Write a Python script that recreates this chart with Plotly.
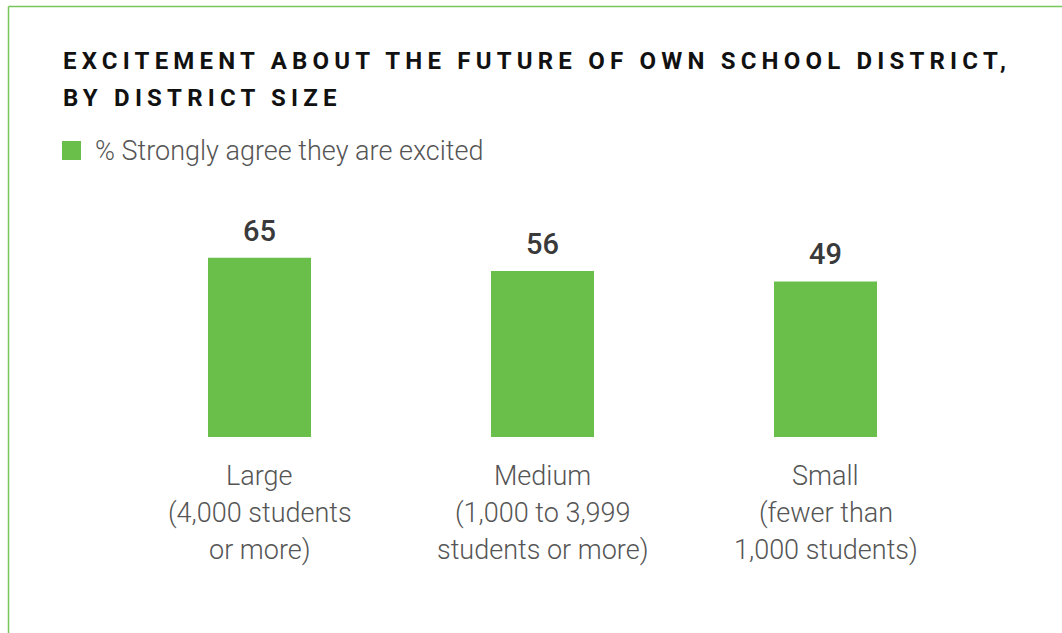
import json
import plotly.graph_objects as go

# ---- data -------------------------------------------------------------
CATEGORIES = ["Large", "Medium", "Small"]
CATEGORY_DETAILS = [
    ["(4,000 students", "or more)"],
    ["(1,000 to 3,999", "students or more)"],
    ["(fewer than", "1,000 students)"],
]
VALUES = [65, 56, 49]
SERIES_NAME = "% Strongly agree they are excited"
TITLE_LINES = [
    "EXCITEMENT ABOUT THE FUTURE OF OWN SCHOOL DISTRICT,",
    "BY DISTRICT SIZE",
]

# ---- styling ----------------------------------------------------------
W, H = 1062, 633
GREEN = "#6abf4b"
BORDER = "#77c65a"
AXIS_FLOOR = -56          # bars rise from the bottom of the value axis
AXIS_TOP = 104
M = dict(l=118, r=95, t=200, b=196)
PW = W - M["l"] - M["r"]
PH = H - M["t"] - M["b"]
TITLE_WIDTH = 943         # tracked width of the first heading line, px

LIGHT = "Roboto"


def px_x(px):
    return (px - M["l"]) / PW


def px_y(py):
    return (H - M["b"] - py) / PH


fig = go.Figure(
    go.Bar(
        x=CATEGORIES,
        y=[v - AXIS_FLOOR for v in VALUES],
        base=AXIS_FLOOR,
        width=0.364,
        marker=dict(color=GREEN, line=dict(width=0)),
        name=SERIES_NAME,
        hoverinfo="skip",
    )
)

annotations = []

# value labels above bars
for cat, v in zip(CATEGORIES, VALUES):
    annotations.append(dict(
        x=cat, y=v, xref="x", yref="y", text=str(v), showarrow=False,
        xanchor="center", yanchor="bottom", yshift=8,
        font=dict(family="Roboto", size=29, color="#3a3a3a", weight=500),
    ))

# category labels (name + detail lines)
LINE_CENTERS = [476.3, 513.0, 549.7]
for cat, details in zip(CATEGORIES, CATEGORY_DETAILS):
    for line, cy in zip([cat] + details, LINE_CENTERS):
        annotations.append(dict(
            x=cat, y=px_y(cy), xref="x", yref="paper", text=line,
            showarrow=False, xanchor="center", yanchor="middle",
            font=dict(family=LIGHT, size=27, color="#555555", weight=300),
        ))

# title
for line, cy in zip(TITLE_LINES, [60.6, 97.6]):
    annotations.append(dict(
        x=px_x(61), y=px_y(cy), xref="paper", yref="paper", text=line,
        showarrow=False, xanchor="left", yanchor="middle", align="left",
        font=dict(family="Roboto", size=24, color="#111111", weight=700),
    ))

# legend entry
annotations.append(dict(
    x=px_x(93), y=px_y(151), xref="paper", yref="paper", text=SERIES_NAME,
    showarrow=False, xanchor="left", yanchor="middle", align="left",
    font=dict(family=LIGHT, size=27, color="#555555", weight=300),
))

shapes = [
    # legend swatch
    dict(type="rect", xref="paper", yref="paper",
         x0=px_x(62), x1=px_x(81), y0=px_y(160), y1=px_y(141),
         fillcolor=GREEN, line=dict(width=0)),
    # frame lines
    dict(type="line", xref="paper", yref="paper",
         x0=px_x(8.5), x1=px_x(W + 2), y0=px_y(6.5), y1=px_y(6.5),
         line=dict(color=BORDER, width=1.5)),
    dict(type="line", xref="paper", yref="paper",
         x0=px_x(8.5), x1=px_x(8.5), y0=px_y(6.5), y1=px_y(H + 2),
         line=dict(color=BORDER, width=1.5)),
]

fig.update_layout(
    width=W, height=H, margin=M,
    paper_bgcolor="white", plot_bgcolor="white",
    showlegend=False,
    xaxis=dict(range=[-0.5, 2.5], showticklabels=False, showgrid=False,
               zeroline=False, showline=False, fixedrange=True),
    yaxis=dict(range=[AXIS_FLOOR, AXIS_TOP], visible=False, fixedrange=True),
    annotations=annotations,
    shapes=shapes,
)

# wide tracking on the heading lines, sized so the first line spans TITLE_WIDTH
post = """
var titles = %s;
var target = %d;
var nodes = [];
document.querySelectorAll('.annotation-text').forEach(function(t){
  if (titles.indexOf(t.textContent) >= 0) { nodes.push(t); }
});
var spacing = 4;
nodes.forEach(function(t){
  if (t.textContent === titles[0]) {
    var natural = t.getComputedTextLength();
    spacing = (target - natural) / (titles[0].length - 1);
  }
});
nodes.forEach(function(t){ t.style.letterSpacing = spacing + 'px'; });
""" % (json.dumps(TITLE_LINES), TITLE_WIDTH)

fig.write_html("out.html", post_script=post, config={"displayModeBar": False})
